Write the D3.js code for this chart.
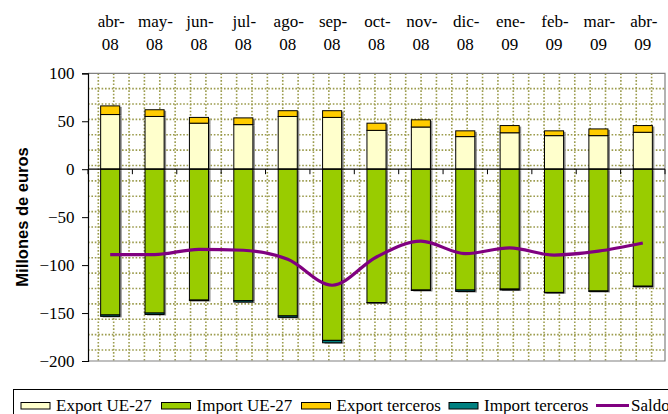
<!DOCTYPE html>
<html><head><meta charset="utf-8">
<script src="https://cdn.jsdelivr.net/npm/d3@7"></script>
</head><body style="margin:0">
<svg id="c" width="668" height="414"></svg>
<script>
const months = ["abr-","may-","jun-","jul-","ago-","sep-","oct-","nov-","dic-","ene-","feb-","mar-","abr-"];
const years  = ["08","08","08","08","08","08","08","08","08","09","09","09","09"];
const exportUE  = [57, 55, 48, 46.5, 55, 54, 40.5, 44, 34, 38, 35, 35, 38.5];
const exportTer = [9, 7, 6, 7, 6, 7, 7.5, 7.5, 6, 7.5, 5, 7, 7];
const importUE  = [-152, -150, -136.5, -137, -153, -178.5, -139, -126, -126, -125, -128.5, -127, -122];
const importTer = [-1.5, -1.5, -0.5, -1.5, -1.5, -2.5, -0.5, -0.5, -1.5, -1, -0.5, -0.5, -0.5];
const saldo     = [-89, -89, -83.5, -84.5, -94, -121, -91.5, -75, -88, -82, -89.5, -85.5, -77];
const yTicks = [100, 50, 0, -50, -100, -150, -200];

const cats = months.map((m,i)=>i);
const svg = d3.select("#c");
const L=88, R=665, T=73.3, B=361;
const x = d3.scaleBand().domain(cats).range([L,R]).paddingInner(0.57).paddingOuter(0.285);
const y = d3.scaleLinear().domain([-200,100]).range([B,T]);
const serif = "Liberation Serif";
const fs = 17;

// plot area pattern grid
const g = svg.append("g");
const step = 15.37;
for (let yy=T+step; yy<B; yy+=step) g.append("line").attr("x1",L).attr("x2",R).attr("y1",yy).attr("y2",yy);
for (let xx=L+10.3; xx<R; xx+=step) g.append("line").attr("x1",xx).attr("x2",xx).attr("y1",T).attr("y2",B);
g.selectAll("line").attr("stroke","#9c9c4e").attr("stroke-width",1.6).attr("stroke-dasharray","1.6,1.8");
svg.append("path").attr("d",`M${L},${T}H${R}V${B}H${L}`).attr("fill","none").attr("stroke","#808080").attr("stroke-width",1.2);

const segs = [];
cats.forEach(i=>{
  segs.push({i, y0:0, y1:exportUE[i], c:"#FFFFCC"});
  segs.push({i, y0:exportUE[i], y1:exportUE[i]+exportTer[i], c:"#FFCC00"});
  segs.push({i, y0:0, y1:importUE[i], c:"#99CC00"});
  segs.push({i, y0:importUE[i], y1:importUE[i]+importTer[i], c:"#008080"});
});
svg.append("g").selectAll("rect").data(segs).join("rect")
  .attr("x",d=>x(d.i)+2).attr("width",x.bandwidth())
  .attr("y",d=>y(Math.max(d.y0,d.y1))+1).attr("height",d=>Math.abs(y(d.y0)-y(d.y1)))
  .attr("fill","#8a8a8a");
svg.append("g").selectAll("rect").data(segs).join("rect")
  .attr("x",d=>x(d.i)).attr("width",x.bandwidth())
  .attr("y",d=>y(Math.max(d.y0,d.y1))).attr("height",d=>Math.abs(y(d.y0)-y(d.y1)))
  .attr("fill",d=>d.c).attr("stroke","#000").attr("stroke-width",1);

const xa = svg.append("g").attr("transform",`translate(0,${y(0)})`);
xa.append("line").attr("x1",L).attr("x2",R).attr("stroke","#000").attr("stroke-width",1.2);
xa.selectAll("line.t").data(d3.range(cats.length+1)).join("line").attr("class","t")
  .attr("x1",k=>L+k*x.step()).attr("x2",k=>L+k*x.step()).attr("y1",0).attr("y2",5)
  .attr("stroke","#000");

const ya = svg.append("g").attr("transform",`translate(${L},0)`)
  .call(d3.axisLeft(y).tickValues(yTicks).tickSize(6).tickPadding(7.5).tickFormat(d3.format("d")));
ya.attr("font-family",serif).attr("font-size",fs);
ya.select(".domain").attr("stroke","#000").attr("stroke-width",1.2);
ya.selectAll("text").attr("fill","#000");
ya.selectAll("line").attr("stroke","#000");

const tl = svg.append("g").attr("font-family",serif).attr("font-size",fs)
  .selectAll("text").data(cats).join("text").attr("text-anchor","middle").attr("fill","#000");
tl.append("tspan").attr("x",i=>x(i)+x.bandwidth()/2+1).attr("y",27).text(i=>months[i]);
tl.append("tspan").attr("x",i=>x(i)+x.bandwidth()/2).attr("y",50).text(i=>years[i]);

svg.append("path").datum(cats)
  .attr("d",d3.line().x(i=>x(i)+x.bandwidth()/2).y(i=>y(saldo[i])).curve(d3.curveMonotoneX))
  .attr("fill","none").attr("stroke","#800080").attr("stroke-width",3.2);

svg.append("text").attr("transform","translate(28,217) rotate(-90)").attr("text-anchor","middle")
  .attr("font-family","Liberation Sans").attr("font-weight","bold").attr("font-size",16.5)
  .text("Millones de euros");

svg.append("rect").attr("x",13.5).attr("y",389.5).attr("width",700).attr("height",40)
  .attr("fill","#fff").attr("stroke","#000").attr("stroke-width",1);
const leg = [
  {t:"Export UE-27", c:"#FFFFCC", x:21},
  {t:"Import UE-27", c:"#99CC00", x:161.5},
  {t:"Export terceros", c:"#FFCC00", x:301.5},
  {t:"Import terceros", c:"#008080", x:449},
];
const lg = svg.append("g").attr("font-family",serif).attr("font-size",fs);
leg.forEach(d=>{
  lg.append("rect").attr("x",d.x).attr("y",402.5).attr("width",29).attr("height",6.5).attr("fill",d.c).attr("stroke","#000");
  lg.append("text").attr("x",d.x+35).attr("y",411).text(d.t);
});
lg.append("line").attr("x1",596).attr("x2",629).attr("y1",405.5).attr("y2",405.5).attr("stroke","#800080").attr("stroke-width",3);
lg.append("text").attr("x",631).attr("y",411).text("Saldo");
</script>
</body></html>
